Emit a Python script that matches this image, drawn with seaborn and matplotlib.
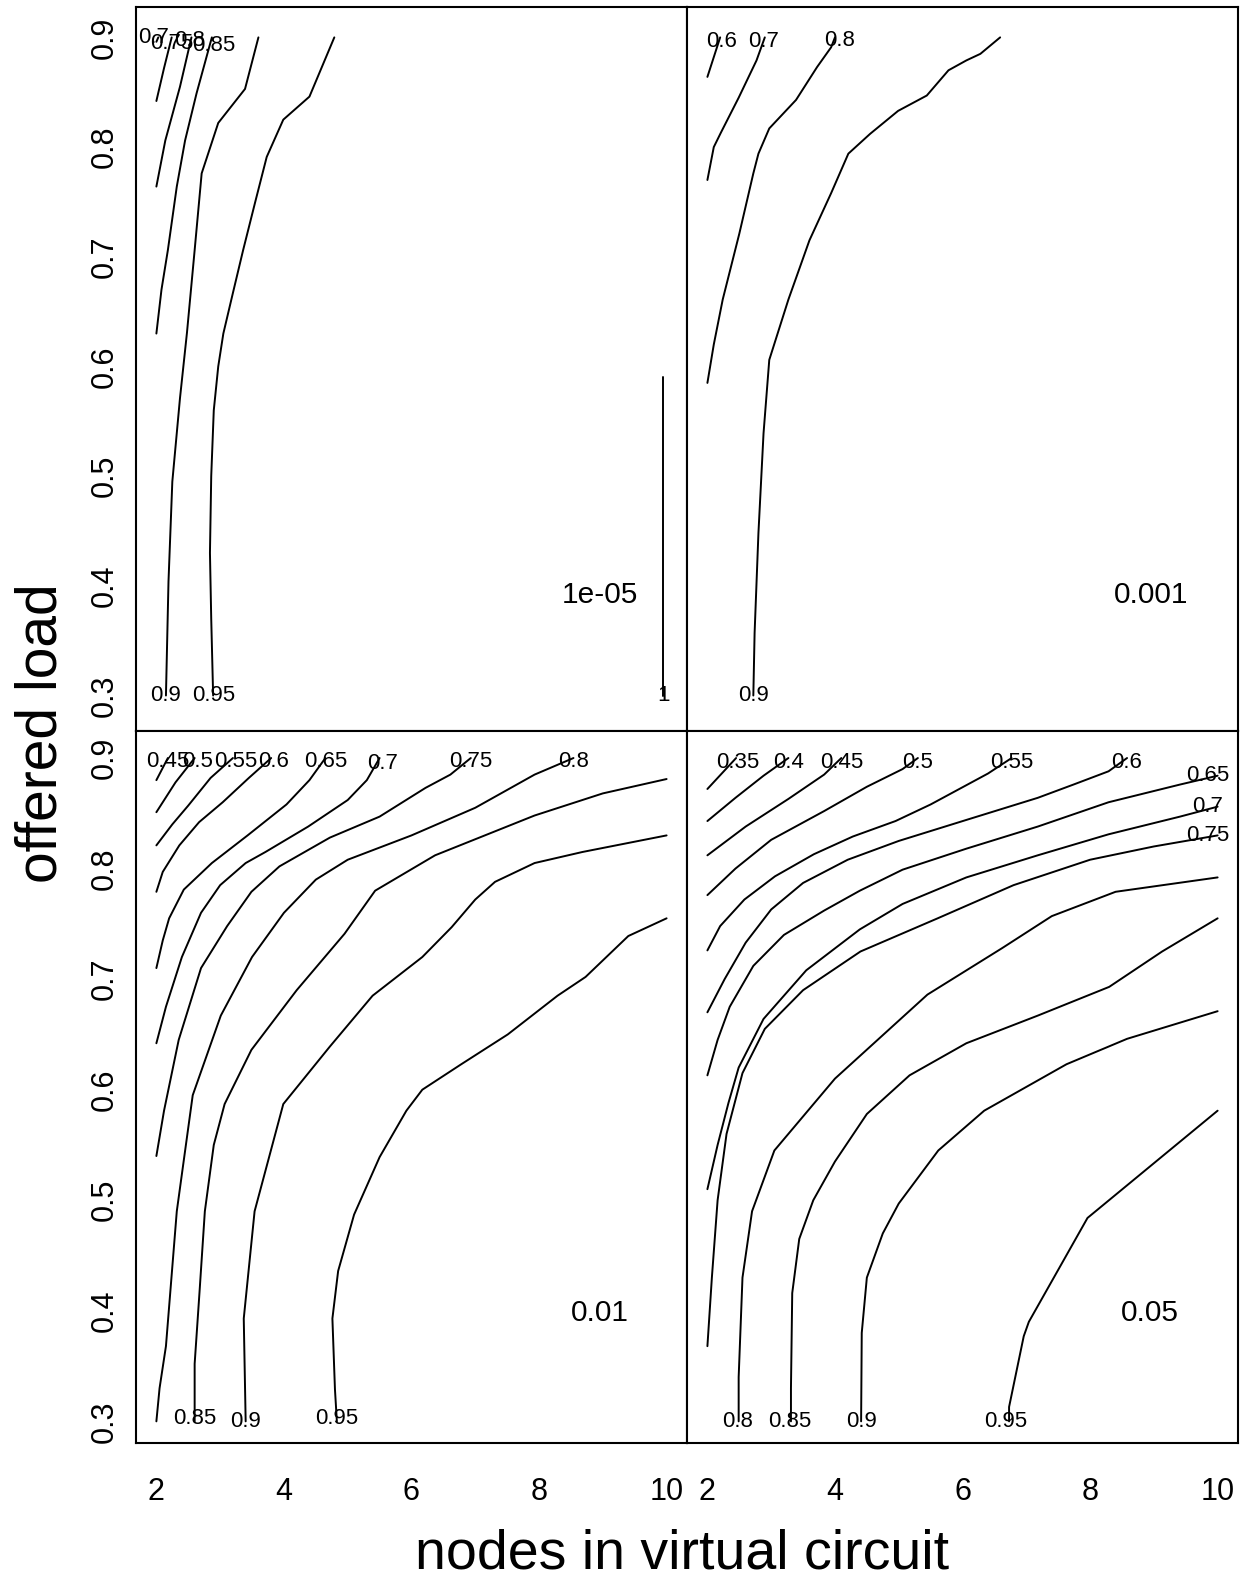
import matplotlib
matplotlib.use("Agg")
import matplotlib.pyplot as plt
import seaborn as sns

# panel names (loss probability) and where the name sits
panel_names = ["1e-05", "0.001", "0.01", "0.05"]
name_x = [8.96, 8.96, 8.96, 8.93]
name_y = [0.392, 0.392, 0.398, 0.398]

x_ticks = [2, 4, 6, 8, 10]
y_ticks = [0.3, 0.4, 0.5, 0.6, 0.7, 0.8, 0.9]

# ---- panel 1e-05 (top left)
tl_x = [
    [2.0, 2.03],
    [2.0, 2.12, 2.24],
    [2.0, 2.14, 2.37, 2.55],
    [2.0, 2.08, 2.18, 2.32, 2.45, 2.63, 2.87],
    [2.15, 2.19, 2.25, 2.37, 2.48, 2.6, 2.71, 2.97, 3.39, 3.6],
    [2.89, 2.86, 2.84, 2.86, 2.9, 2.97, 3.05, 3.2, 3.36, 3.55, 3.73, 3.99, 4.4, 4.79],
    [9.95, 9.95],
]
tl_y = [
    [0.896, 0.9],
    [0.842, 0.872, 0.9],
    [0.764, 0.806, 0.855, 0.9],
    [0.63, 0.67, 0.706, 0.764, 0.806, 0.849, 0.9],
    [0.3, 0.404, 0.495, 0.571, 0.631, 0.706, 0.776, 0.822, 0.853, 0.9],
    [0.3, 0.37, 0.43, 0.5, 0.56, 0.6, 0.63, 0.667, 0.706, 0.75, 0.791, 0.825, 0.846, 0.9],
    [0.3, 0.59],
]
tl_lab = ["0.7", "0.75", "0.8", "0.85", "0.9", "0.95", "1"]
tl_lab_x = [1.95, 2.24, 2.52, 2.9, 2.15, 2.9, 9.95]
tl_lab_y = [0.9, 0.894, 0.897, 0.893, 0.3, 0.3, 0.3]

# ---- panel 0.001 (top right)
tr_x = [
    [2.0, 2.2],
    [2.0, 2.1, 2.21, 2.49, 2.77, 2.9],
    [2.0, 2.1, 2.24, 2.5, 2.72, 2.8, 2.97, 3.39, 3.72, 3.94, 4.0],
    [2.72, 2.74, 2.8, 2.88, 2.97, 3.27, 3.6, 3.94, 4.21, 4.55, 4.99, 5.44, 5.78, 6.06, 6.28, 6.59],
]
tr_y = [
    [0.864, 0.9],
    [0.77, 0.8, 0.813, 0.845, 0.879, 0.9],
    [0.585, 0.62, 0.661, 0.721, 0.776, 0.794, 0.817, 0.843, 0.873, 0.891, 0.9],
    [0.3, 0.357, 0.448, 0.539, 0.606, 0.661, 0.715, 0.758, 0.794, 0.812, 0.833, 0.847, 0.87, 0.879, 0.885, 0.9],
]
tr_lab = ["0.6", "0.7", "0.8", "0.9"]
tr_lab_x = [2.22, 2.88, 4.07, 2.72]
tr_lab_y = [0.896, 0.896, 0.897, 0.3]

# ---- panel 0.01 (bottom left)
bl_x = [
    [2.0, 2.18],
    [2.0, 2.3, 2.6],
    [2.0, 2.25, 2.5, 2.85, 3.2],
    [2.0, 2.1, 2.36, 2.67, 3.04, 3.45, 3.8],
    [2.0, 2.1, 2.2, 2.43, 2.87, 3.43, 4.04, 4.4, 4.65],
    [2.0, 2.15, 2.4, 2.7, 3.0, 3.4, 3.71, 4.38, 5.0, 5.3, 5.5],
    [2.0, 2.12, 2.35, 2.7, 3.11, 3.49, 3.93, 4.72, 5.5, 6.22, 6.61, 6.93],
    [2.0, 2.05, 2.15, 2.32, 2.57, 3.01, 3.5, 4.0, 4.5, 5.0, 6.0, 7.0, 7.93, 8.54],
    [2.6, 2.6, 2.68, 2.76, 2.9, 3.07, 3.49, 4.2, 4.95, 5.43, 6.37, 7.93, 9.0, 10.0],
    [3.4, 3.37, 3.54, 3.99, 4.72, 5.39, 6.17, 6.63, 7.0, 7.31, 7.93, 8.68, 10.0],
    [4.83, 4.8, 4.76, 4.85, 5.1, 5.5, 5.92, 6.17, 6.78, 7.51, 8.29, 8.73, 9.4, 10.0],
]
bl_y = [
    [0.88, 0.9],
    [0.851, 0.878, 0.9],
    [0.821, 0.84, 0.857, 0.882, 0.9],
    [0.779, 0.797, 0.821, 0.842, 0.86, 0.882, 0.9],
    [0.71, 0.735, 0.755, 0.781, 0.805, 0.83, 0.858, 0.88, 0.9],
    [0.642, 0.675, 0.72, 0.76, 0.785, 0.805, 0.815, 0.838, 0.862, 0.88, 0.9],
    [0.54, 0.581, 0.645, 0.71, 0.748, 0.779, 0.802, 0.828, 0.847, 0.873, 0.885, 0.9],
    [0.3, 0.33, 0.368, 0.49, 0.595, 0.667, 0.72, 0.76, 0.79, 0.808, 0.83, 0.855, 0.885, 0.9],
    [0.3, 0.352, 0.42, 0.49, 0.55, 0.587, 0.636, 0.69, 0.741, 0.78, 0.812, 0.848, 0.868, 0.881],
    [0.3, 0.393, 0.49, 0.587, 0.639, 0.685, 0.72, 0.747, 0.772, 0.788, 0.805, 0.815, 0.83],
    [0.3, 0.329, 0.393, 0.436, 0.487, 0.539, 0.581, 0.6, 0.623, 0.65, 0.685, 0.702, 0.739, 0.755],
]
bl_lab = ["0.45", "0.5", "0.55", "0.6", "0.65", "0.7", "0.75", "0.8", "0.85", "0.9", "0.95"]
bl_lab_x = [2.18, 2.65, 3.25, 3.84, 4.65, 5.54, 6.93, 8.54, 2.6, 3.4, 4.83]
bl_lab_y = [0.897, 0.897, 0.897, 0.897, 0.897, 0.895, 0.897, 0.897, 0.303, 0.3, 0.303]

# ---- panel 0.05 (bottom right)
br_x = [
    [2.0, 2.45],
    [2.0, 2.44, 2.88, 3.27],
    [2.0, 2.6, 3.27, 3.83, 4.1],
    [2.0, 2.44, 3.0, 3.83, 4.5, 5.06, 5.3],
    [2.0, 2.2, 2.58, 3.06, 3.67, 4.28, 4.95, 5.5, 6.4, 6.77],
    [2.0, 2.27, 2.6, 3.0, 3.5, 4.2, 5.0, 6.06, 7.18, 7.74, 8.29, 8.58],
    [2.0, 2.16, 2.35, 2.72, 3.2, 3.83, 4.39, 5.06, 6.06, 7.18, 8.29, 9.41, 10.0],
    [2.0, 2.16, 2.33, 2.49, 2.88, 3.55, 4.39, 5.06, 6.06, 7.18, 8.29, 9.41, 10.0],
    [2.0, 2.07, 2.16, 2.3, 2.55, 2.9, 3.5, 4.4, 5.61, 6.8, 8.0, 9.0, 10.0],
    [2.49, 2.49, 2.55, 2.7, 3.05, 4.0, 5.45, 6.62, 7.4, 8.4, 10.0],
    [3.31, 3.31, 3.33, 3.44, 3.66, 4.0, 4.5, 5.17, 6.06, 7.18, 8.3, 9.13, 10.0],
    [4.41, 4.42, 4.5, 4.75, 5.0, 5.62, 6.34, 7.63, 8.58, 10.0],
    [6.73, 6.73, 6.96, 7.04, 7.96, 10.0],
]
br_y = [
    [0.872, 0.9],
    [0.843, 0.864, 0.884, 0.9],
    [0.812, 0.838, 0.863, 0.885, 0.9],
    [0.776, 0.8, 0.826, 0.852, 0.874, 0.89, 0.9],
    [0.726, 0.748, 0.772, 0.793, 0.813, 0.829, 0.843, 0.858, 0.886, 0.9],
    [0.67, 0.7, 0.733, 0.763, 0.787, 0.808, 0.825, 0.844, 0.864, 0.876, 0.888, 0.9],
    [0.613, 0.645, 0.675, 0.712, 0.74, 0.762, 0.78, 0.799, 0.818, 0.838, 0.86, 0.876, 0.884],
    [0.51, 0.55, 0.588, 0.62, 0.664, 0.708, 0.745, 0.768, 0.792, 0.812, 0.831, 0.847, 0.856],
    [0.368, 0.43, 0.5, 0.56, 0.615, 0.655, 0.69, 0.725, 0.755, 0.785, 0.808, 0.82, 0.83],
    [0.3, 0.34, 0.43, 0.49, 0.545, 0.61, 0.686, 0.728, 0.757, 0.779, 0.792],
    [0.3, 0.33, 0.416, 0.465, 0.5, 0.535, 0.578, 0.613, 0.642, 0.667, 0.693, 0.725, 0.755],
    [0.3, 0.38, 0.43, 0.47, 0.497, 0.545, 0.581, 0.623, 0.646, 0.671],
    [0.3, 0.313, 0.377, 0.39, 0.484, 0.581],
]
br_lab = ["0.35", "0.4", "0.45", "0.5", "0.55", "0.6", "0.65", "0.7", "0.75",
          "0.8", "0.85", "0.9", "0.95"]
br_lab_x = [2.48, 3.27, 4.1, 5.29, 6.77, 8.58, 9.85, 9.85, 9.85, 2.47, 3.29, 4.42, 6.68]
br_lab_y = [0.896, 0.896, 0.896, 0.896, 0.896, 0.896, 0.884, 0.856, 0.83, 0.3, 0.3, 0.3, 0.3]

sns.set_style("white")
plt.rcParams["font.family"] = ["Liberation Sans", "DejaVu Sans"]
plt.rcParams["text.color"] = "black"
plt.rcParams["xtick.color"] = "black"
plt.rcParams["ytick.color"] = "black"

fig = plt.figure(figsize=(12.44, 15.81), dpi=100)
gs = fig.add_gridspec(2, 2, left=0.1093, right=0.9952, top=0.9955, bottom=0.0870,
                      wspace=0, hspace=0, height_ratios=[718, 707])

row_ylim = [(0.2678, 0.9276), (0.28, 0.9246)]

panels = [
    (0, 0, tl_x, tl_y, tl_lab, tl_lab_x, tl_lab_y),
    (0, 1, tr_x, tr_y, tr_lab, tr_lab_x, tr_lab_y),
    (1, 0, bl_x, bl_y, bl_lab, bl_lab_x, bl_lab_y),
    (1, 1, br_x, br_y, br_lab, br_lab_x, br_lab_y),
]

for k, (r, c, xs, ys, labs, lx, ly) in enumerate(panels):
    ax = fig.add_subplot(gs[r, c])
    for xv, yv in zip(xs, ys):
        sns.lineplot(x=xv, y=yv, ax=ax, color="black", linewidth=1.4,
                     sort=False, estimator=None)
    for t, tx, ty in zip(labs, lx, ly):
        ax.text(tx, ty, t, fontsize=16, ha="center", va="center", color="black")
    ax.text(name_x[k], name_y[k], panel_names[k], fontsize=21.5, ha="center",
            va="center", color="black")

    ax.set_xlim(1.68, 10.32)
    ax.set_ylim(*row_ylim[r])
    ax.set_xlabel("")
    ax.set_ylabel("")
    for s in ax.spines.values():
        s.set_linewidth(1.5)
        s.set_color("black")

    ax.set_xticks(x_ticks)
    ax.set_yticks(y_ticks)
    ax.tick_params(axis="both", direction="out", length=10, width=1.3,
                   color="black", labelcolor="black", labelsize=22)
    ax.tick_params(axis="x", pad=14)
    ax.tick_params(axis="y", pad=2)
    if r == 1:
        ax.set_xticklabels([str(v) for v in x_ticks])
    else:
        ax.tick_params(axis="x", bottom=False, labelbottom=False)
    if c == 0:
        ax.set_yticklabels([str(v) for v in y_ticks])
        plt.setp(ax.get_yticklabels(), rotation=90, va="center")
    else:
        ax.tick_params(axis="y", left=False, labelleft=False)

fig.text(0.548, 0.008, "nodes in virtual circuit", fontsize=40, ha="center",
         va="baseline", color="black")
fig.text(0.033, 0.536, "offered load", fontsize=41, rotation=90, ha="center",
         va="center", color="black")

fig.savefig("out.png", dpi=100)
